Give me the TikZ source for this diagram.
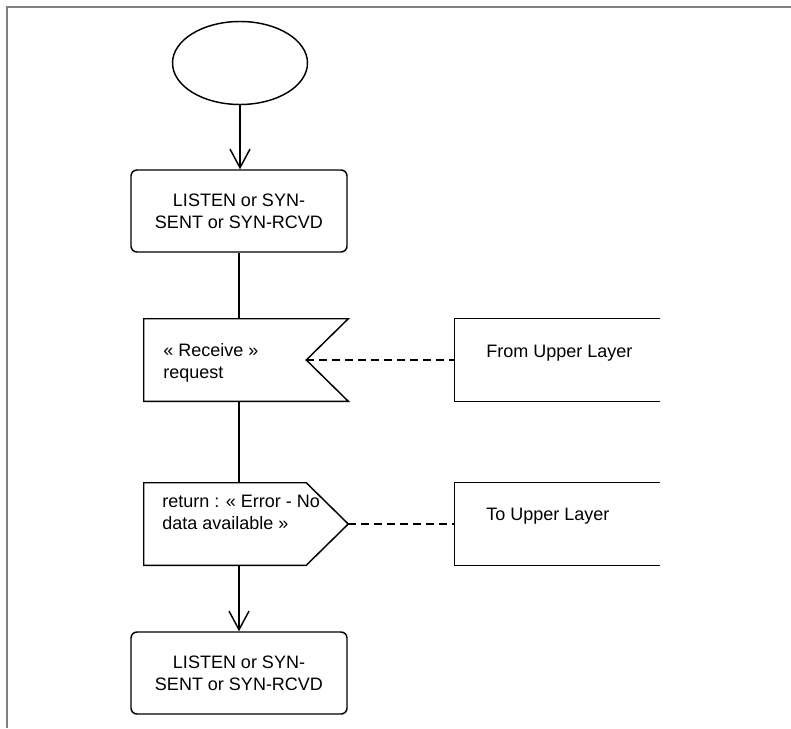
\documentclass[tikz,border=0pt]{standalone}
\usepackage{fontspec}
\setmainfont{Liberation Sans}
\usetikzlibrary{arrows.meta,shapes.geometric}
\definecolor{framegray}{RGB}{128,128,128}
\tikzset{
  sdl/.style={draw=black, line width=1.1pt, inner sep=0pt},
  statebox/.style={sdl, rounded corners=4.5pt, minimum width=162pt, minimum height=61.5pt, align=center},
  sigarea/.style={inner sep=0pt, minimum width=153pt, minimum height=61.5pt},
  envarea/.style={inner sep=0pt, minimum width=153.75pt, minimum height=61.5pt},
  txt/.style={inner sep=0pt, align=left},
  flow/.style={line width=1.1pt},
  flowarr/.style={flow, -{Straight Barb[length=14pt,width=15pt]}},
  link/.style={flow, dash pattern=on 6pt off 3.75pt},
}
\begin{document}
\begin{tikzpicture}[x=0.75pt, y=-0.75pt, every node/.style={font=\fontsize{13.5pt}{16.5pt}\selectfont}]
\useasboundingbox (0,0) rectangle (791,728);
\draw[line width=1.6pt, framegray] (7,728) -- (7,7) -- (791,7);

% start and states
\node[sdl, ellipse, minimum width=101.25pt, minimum height=62.25pt] (start) at (240,63) {};
\node[statebox] (state1) at (239,211) {LISTEN or SYN-\\SENT or SYN-RCVD};
\node[statebox] (state2) at (239,673) {LISTEN or SYN-\\SENT or SYN-RCVD};

% input
\node[sigarea] (recv) at (246,360) {};
\draw[flow] (recv.north west) -- (recv.north east) -- ([xshift=-31.5pt]recv.east) coordinate (recvin)
  -- (recv.south east) -- (recv.south west) -- cycle;
\node[txt, anchor=west] (recvtxt) at (163,363) {« Receive »\\request};

% output
\node[sigarea] (send) at (246,524) {};
\draw[flow] (send.north west) -- ([xshift=-31.5pt]send.north east) -- (send.east)
  -- ([xshift=-31.5pt]send.south east) -- (send.south west) -- cycle;
\node[txt, anchor=west] (sendtxt) at (162,512) {return : « Error - No\\data available »};

% environment
\node[envarea] (fromul) at (557.5,360) {};
\draw[flow] (fromul.north east) -- (fromul.north west) -- (fromul.south west) -- (fromul.south east);
\node[txt, anchor=base west] (fromtxt) at (486,357) {From Upper Layer};
\node[envarea] (toul) at (557.5,524) {};
\draw[flow] (toul.north east) -- (toul.north west) -- (toul.south west) -- (toul.south east);
\node[txt, anchor=base west] (totxt) at (486,520) {To Upper Layer};

% connectors
\draw[flowarr] (start.south) -- (start.south |- state1.north);
\draw[flow] (state1.south) -- (state1.south |- recv.north);
\draw[flow] (recv.south -| state1.south) -- (send.north -| state1.south);
\draw[flowarr] (send.south -| state1.south) -- (state2.north);
\draw[link] (recvin) -- (fromul.west);
\draw[link] (send.east) -- (toul.west);
\end{tikzpicture}
\end{document}
